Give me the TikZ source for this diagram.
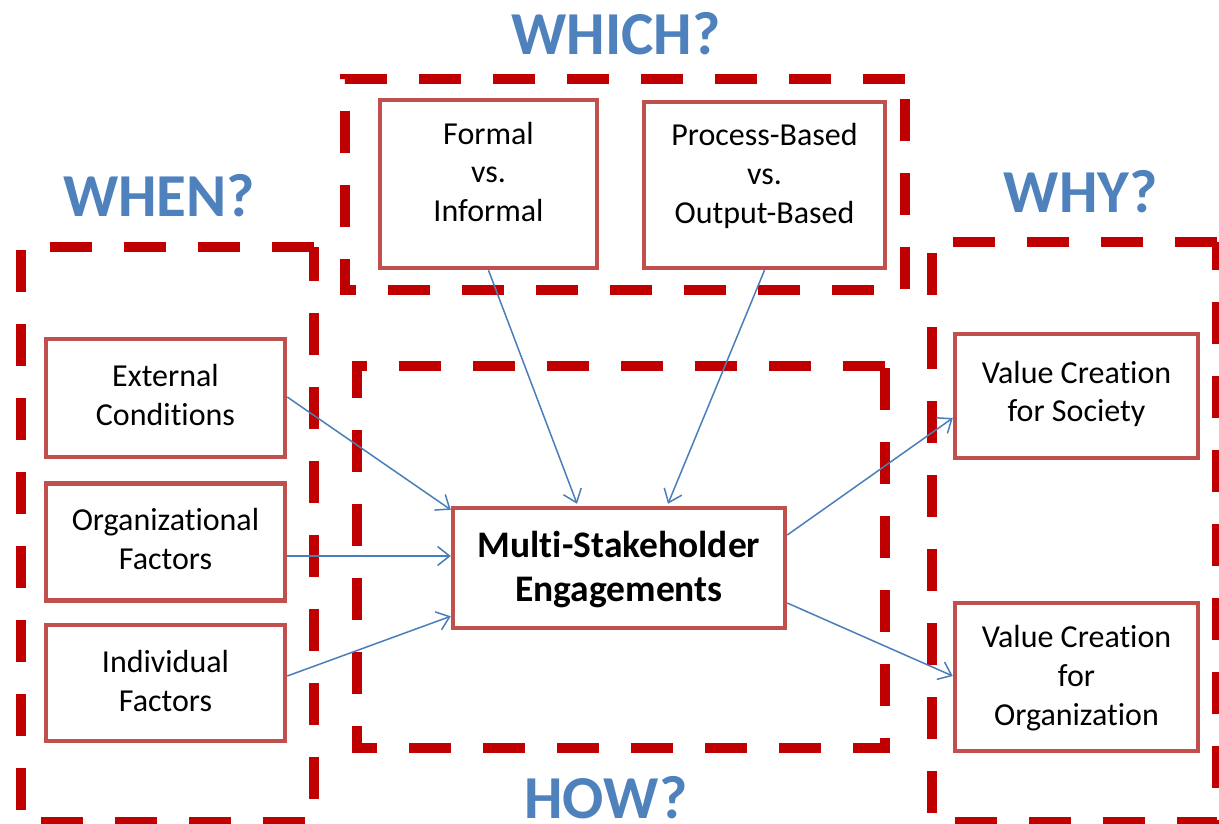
\documentclass[tikz,border=0pt]{standalone}
\usepackage{fontspec}
\setmainfont{Carlito}[Ligatures=NoCommon]
\usetikzlibrary{arrows.meta}
\definecolor{dashred}{HTML}{C00000}
\definecolor{boxred}{HTML}{C0504D}
\definecolor{qblue}{HTML}{4F81BD}
\definecolor{arrblue}{HTML}{4A7EBB}
\begin{document}
\begin{tikzpicture}[x=1pt,y=-1pt,
  region/.style={draw=dashred,line width=10pt,dash pattern=on 42pt off 32pt,line join=miter},
  factor/.style={draw=boxred,line width=4.5pt,fill=white,inner sep=0pt},
  factortext/.style={align=center,inner sep=0pt,font=\fontsize{32}{38.8}\selectfont},
  coretext/.style={align=center,inner sep=0pt,font=\fontsize{37.5}{44}\selectfont\bfseries},
  question/.style={text=qblue,anchor=base,font=\fontsize{61}{70}\selectfont\bfseries,inner sep=0pt},
  arr/.style={draw=arrblue,line width=1.5pt,-{Straight Barb[length=12pt,width=19pt,line width=1.5pt]}}]
\useasboundingbox (0,0) rectangle (1219,824);
\fill[white] (0,0) rectangle (1219,824);

% dashed regions (drawn from top-right corner, counter-clockwise)
\draw[region] (314,247) -- (21,247) -- (21,822) -- (314,822) -- cycle;
\draw[region] (905,79) -- (345,79) -- (345,290) -- (905,290) -- cycle;
\draw[region] (885,366) -- (357,366) -- (357,748) -- (885,748) -- cycle;
\draw[region] (1217,242) -- (932,242) -- (932,822) -- (1217,822) -- cycle;

% question labels
\node[question] (which) at (616,55) {WHICH?};
\node[question] (when) at (159,216) {WHEN?};
\node[question] (how) at (606,818) {HOW?};
\node[question] (why) at (1081,212) {WHY?};

% boxes
\node[factor,minimum width=217pt,minimum height=168pt] (formal) at (488.5,184) {};
\node[factor,minimum width=241pt,minimum height=166pt] (process) at (764.5,185) {};
\node[factor,minimum width=239pt,minimum height=118pt] (ext) at (165.5,398) {};
\node[factor,minimum width=239pt,minimum height=117pt] (org) at (165.5,542) {};
\node[factor,minimum width=239pt,minimum height=116pt] (ind) at (165.5,683) {};
\node[factor,minimum width=332pt,minimum height=120pt] (mse) at (619,568) {};
\node[factor,minimum width=243pt,minimum height=124pt] (soc) at (1076.5,396) {};
\node[factor,minimum width=243pt,minimum height=148pt] (orgv) at (1076.5,677) {};

% box texts
\node[factortext] (formalt) at (488.5,172) {Formal\\vs.\\Informal};
\node[factortext] (processt) at (764.5,176) {Process-Based\\vs.\\Output-Based};
\node[factortext] (extt) at (165.5,395) {External\\Conditions};
\node[factortext] (orgt) at (165.5,539) {Organizational\\Factors};
\node[factortext] (indt) at (165.5,681) {Individual\\Factors};
\node[coretext] (mset) at (619,570) {Multi-Stakeholder\\Engagements};
\node[factortext] (soct) at (1076.5,394) {Value Creation\\for Society};
\node[factortext] (orgvt) at (1076.5,678) {Value Creation\\for\\Organization};

% connectors
\draw[arr] ([yshift=1pt]ext.east) -- ([yshift=-4pt]mse.north west);
\draw[arr] ([yshift=-14pt]org.east) -- ([yshift=12pt]mse.west);
\draw[arr] ([yshift=7pt]ind.east) -- ([yshift=14pt]mse.south west);
\draw[arr] (formal.south) -- ([xshift=-42pt,yshift=2pt]mse.north);
\draw[arr] (process.south) -- ([xshift=49pt,yshift=2pt]mse.north);
\draw[arr] ([yshift=33pt]mse.east) -- ([yshift=-22pt]soc.west);
\draw[arr] ([yshift=-35pt]mse.east) -- ([yshift=1pt]orgv.west);
\end{tikzpicture}
\end{document}
